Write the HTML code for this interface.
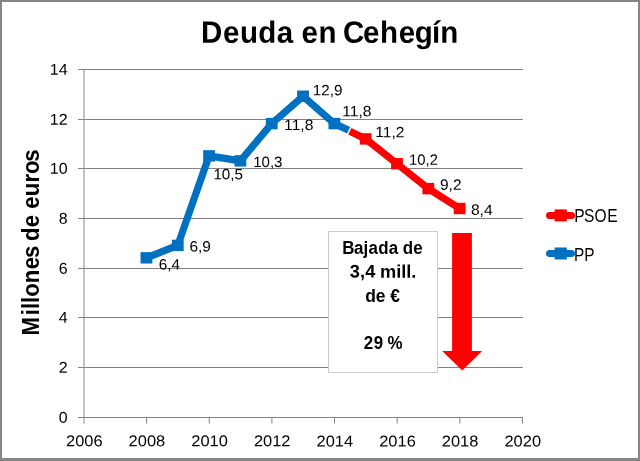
<!DOCTYPE html>
<html lang="es">
<head>
<meta charset="utf-8">
<title>Deuda en Cehegín</title>
<style>
html,body{margin:0;padding:0;background:#fff;}
body{width:640px;height:461px;overflow:hidden;}
svg{display:block;}
text{font-family:"Liberation Sans", Arial, Helvetica, sans-serif;fill:#000;}
.b{font-weight:bold;}
</style>
</head>
<body>
<svg width="640" height="461" viewBox="0 0 640 461">

<rect x="0" y="0" width="640" height="461" fill="#858585"/>
<rect x="2" y="2" width="636" height="456" fill="#ffffff"/>
<rect x="78" y="417" width="445" height="1" fill="#828282"/>
<rect x="78" y="367" width="445" height="1" fill="#828282"/>
<rect x="78" y="317" width="445" height="1" fill="#828282"/>
<rect x="78" y="268" width="445" height="1" fill="#828282"/>
<rect x="78" y="218" width="445" height="1" fill="#828282"/>
<rect x="78" y="168" width="445" height="1" fill="#828282"/>
<rect x="78" y="119" width="445" height="1" fill="#828282"/>
<rect x="78" y="69" width="445" height="1" fill="#828282"/>
<line x1="84.00" y1="69" x2="84.00" y2="423.6" stroke="#858585" stroke-width="1"/>
<line x1="146.64" y1="417.50" x2="146.64" y2="423.6" stroke="#828282" stroke-width="1"/>
<line x1="209.28" y1="417.50" x2="209.28" y2="423.6" stroke="#828282" stroke-width="1"/>
<line x1="271.92" y1="417.50" x2="271.92" y2="423.6" stroke="#828282" stroke-width="1"/>
<line x1="334.56" y1="417.50" x2="334.56" y2="423.6" stroke="#828282" stroke-width="1"/>
<line x1="397.20" y1="417.50" x2="397.20" y2="423.6" stroke="#828282" stroke-width="1"/>
<line x1="459.84" y1="417.50" x2="459.84" y2="423.6" stroke="#828282" stroke-width="1"/>
<rect x="522" y="417" width="1" height="6.7" fill="#828282"/>
<text class="b" transform="translate(39.20,337.42) rotate(-90) scale(0.9626,1)" x="1.89 22.98 29.42 35.87 42.32 56.42 70.71 82.55 93.96 100.14 114.42 127.20 133.57 146.60 160.86 169.87 182.63" y="0" font-size="23.0">Millones de euros</text>
<rect x="328.5" y="231.5" width="109" height="141" fill="#ffffff" stroke="#cbcbcb" stroke-width="1"/>
<polygon points="452.1,232.9 471.9,232.9 471.9,351 482.2,351 462.3,370.6 442.2,351 452.1,351" fill="#ff0000"/>
<polyline points="349.86,131.37 365.68,138.90 397.00,163.76 428.32,188.62 459.64,208.50" fill="none" stroke="#ff0000" stroke-width="7.2" stroke-linejoin="round" stroke-linecap="butt"/>
<rect x="359.78" y="133.20" width="11.8" height="11.4" fill="#ff0000"/>
<rect x="391.10" y="158.06" width="11.8" height="11.4" fill="#ff0000"/>
<rect x="422.42" y="182.92" width="11.8" height="11.4" fill="#ff0000"/>
<rect x="453.74" y="202.80" width="11.8" height="11.4" fill="#ff0000"/>
<polyline points="146.44,257.82 177.76,245.39 209.08,155.90 240.40,160.87 271.72,123.59 303.04,96.24 334.36,123.59 348.61,130.37" fill="none" stroke="#0070c0" stroke-width="7.2" stroke-linejoin="round" stroke-linecap="butt"/>
<rect x="140.54" y="252.12" width="11.8" height="11.4" fill="#0070c0"/>
<rect x="171.86" y="239.69" width="11.8" height="11.4" fill="#0070c0"/>
<rect x="203.18" y="150.20" width="11.8" height="11.4" fill="#0070c0"/>
<rect x="234.50" y="155.17" width="11.8" height="11.4" fill="#0070c0"/>
<rect x="265.82" y="117.89" width="11.8" height="11.4" fill="#0070c0"/>
<rect x="297.14" y="90.54" width="11.8" height="11.4" fill="#0070c0"/>
<rect x="328.46" y="117.89" width="11.8" height="11.4" fill="#0070c0"/>
<line x1="549.5" y1="215.4" x2="571.5" y2="215.4" stroke="#ff0000" stroke-width="7" stroke-linecap="round"/>
<rect x="554.6" y="209.4" width="12.2" height="12" fill="#ff0000"/>
<line x1="549.5" y1="253.5" x2="571.5" y2="253.5" stroke="#0070c0" stroke-width="7" stroke-linecap="round"/>
<rect x="554.6" y="247.5" width="12.2" height="12" fill="#0070c0"/>
<g transform="matrix(1 0.0005 0 1 0 -0.16)">
<text x="67.7" y="422.90" font-size="15.7" text-anchor="end" textLength="8.9" lengthAdjust="spacingAndGlyphs">0</text>
<text x="67.7" y="372.90" font-size="15.7" text-anchor="end" textLength="8.9" lengthAdjust="spacingAndGlyphs">2</text>
<text x="67.7" y="322.90" font-size="15.7" text-anchor="end" textLength="8.9" lengthAdjust="spacingAndGlyphs">4</text>
<text x="67.7" y="273.90" font-size="15.7" text-anchor="end" textLength="8.9" lengthAdjust="spacingAndGlyphs">6</text>
<text x="67.7" y="223.90" font-size="15.7" text-anchor="end" textLength="8.9" lengthAdjust="spacingAndGlyphs">8</text>
<text x="67.7" y="173.90" font-size="15.7" text-anchor="end" textLength="17.9" lengthAdjust="spacingAndGlyphs">10</text>
<text x="67.7" y="124.90" font-size="15.7" text-anchor="end" textLength="17.9" lengthAdjust="spacingAndGlyphs">12</text>
<text x="67.7" y="74.90" font-size="15.7" text-anchor="end" textLength="17.9" lengthAdjust="spacingAndGlyphs">14</text>
<text x="84.30" y="446.4" font-size="15.7" text-anchor="middle" textLength="36.6" lengthAdjust="spacingAndGlyphs">2006</text>
<text x="146.94" y="446.4" font-size="15.7" text-anchor="middle" textLength="36.6" lengthAdjust="spacingAndGlyphs">2008</text>
<text x="209.58" y="446.4" font-size="15.7" text-anchor="middle" textLength="36.6" lengthAdjust="spacingAndGlyphs">2010</text>
<text x="272.22" y="446.4" font-size="15.7" text-anchor="middle" textLength="36.6" lengthAdjust="spacingAndGlyphs">2012</text>
<text x="334.86" y="446.4" font-size="15.7" text-anchor="middle" textLength="36.6" lengthAdjust="spacingAndGlyphs">2014</text>
<text x="397.50" y="446.4" font-size="15.7" text-anchor="middle" textLength="36.6" lengthAdjust="spacingAndGlyphs">2016</text>
<text x="460.14" y="446.4" font-size="15.7" text-anchor="middle" textLength="36.6" lengthAdjust="spacingAndGlyphs">2018</text>
<text x="522.78" y="446.4" font-size="15.7" text-anchor="middle" textLength="36.6" lengthAdjust="spacingAndGlyphs">2020</text>
<text class="b" transform="translate(200.89,42.80) scale(0.9591,1)" x="0.14 22.94 40.68 59.84 79.09 96.23 104.97 122.70 141.45 148.10 169.10 186.84 206.25 222.87 240.85 249.70" y="0" font-size="30.8">Deuda en Cehegín</text>
<text class="b" transform="translate(342.87,254.10) scale(0.9263,1)" x="-0.70 11.94 22.38 27.73 38.09 49.46 59.59 64.59 76.05" y="0" font-size="18.3">Bajada de</text>
<text class="b" transform="translate(349.69,277.60) scale(0.9959,1)" x="0.04 10.33 15.53 25.50 30.43 46.75 51.72 56.69 61.89" y="0" font-size="18.3">3,4 mill.</text>
<text class="b" transform="translate(365.21,301.80) scale(0.9539,1)" x="-0.05 11.19 21.27 26.30" y="0" font-size="18.3">de €</text>
<text class="b" transform="translate(363.61,349.00) scale(0.9269,1)" x="0.28 11.02 21.33 25.85" y="0" font-size="18.3">29 %</text>
<text x="158.8" y="269.7" font-size="14.9" textLength="21.2" lengthAdjust="spacingAndGlyphs">6,4</text>
<text x="189.4" y="251.5" font-size="14.9" textLength="21.4" lengthAdjust="spacingAndGlyphs">6,9</text>
<text x="213.4" y="179.4" font-size="14.9" textLength="29.6" lengthAdjust="spacingAndGlyphs">10,5</text>
<text x="253.2" y="167.1" font-size="14.9" textLength="29.3" lengthAdjust="spacingAndGlyphs">10,3</text>
<text x="284.1" y="130.1" font-size="14.9" textLength="29.3" lengthAdjust="spacingAndGlyphs">11,8</text>
<text x="312.7" y="95.3" font-size="14.9" textLength="29.7" lengthAdjust="spacingAndGlyphs">12,9</text>
<text x="342.2" y="116.2" font-size="14.9" textLength="29.3" lengthAdjust="spacingAndGlyphs">11,8</text>
<text x="375.2" y="137.1" font-size="14.9" textLength="29.3" lengthAdjust="spacingAndGlyphs">11,2</text>
<text x="409.1" y="164.8" font-size="14.9" textLength="28.9" lengthAdjust="spacingAndGlyphs">10,2</text>
<text x="440.0" y="189.7" font-size="14.9" textLength="21.5" lengthAdjust="spacingAndGlyphs">9,2</text>
<text x="470.9" y="214.8" font-size="14.9" textLength="21.8" lengthAdjust="spacingAndGlyphs">8,4</text>
<text transform="translate(574.08,222.30) scale(0.8358,1)" x="0.08 11.94 24.54 39.55" y="0" font-size="18.6">PSOE</text>
<text transform="translate(574.11,260.40) scale(0.8270,1)" x="0.00 12.41" y="0" font-size="18.6">PP</text>
</g>
</svg>
</body>
</html>
